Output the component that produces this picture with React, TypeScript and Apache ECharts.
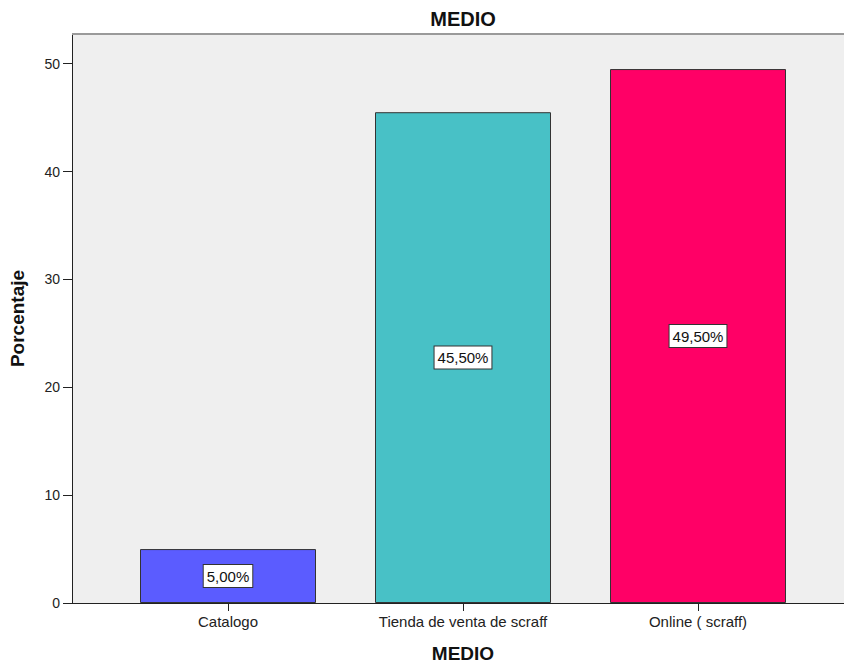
import React, { useEffect, useRef } from "react";
import * as echarts from "echarts";

const categories = ["Catalogo", "Tienda de venta de scraff", "Online ( scraff)"];
const percentages = [5.0, 45.5, 49.5];
const barColors = ["#5B5CFF", "#48C1C6", "#FF0066"];
const yTicks = [0, 10, 20, 30, 40, 50];

const FONT = "'Liberation Sans', Arial, sans-serif";
const Y_MAX = 52.75;

export default function App() {
  const ref = useRef<HTMLDivElement>(null);
  useEffect(() => {
    if (!ref.current) return;
    const chart = echarts.init(ref.current, null, { renderer: "svg" });
    chart.setOption({
      animation: false,
      textStyle: { fontFamily: FONT },
      title: {
        text: "MEDIO",
        left: 458,
        top: 4,
        textAlign: "center",
        textStyle: { fontFamily: FONT, fontSize: 20, fontWeight: "bold", color: "#111" },
      },
      grid: [
        {
          left: 72, right: 0, top: 34, bottom: 61, show: true, backgroundColor: "#EFEFEF", borderWidth: 0,
          containLabel: false, outerBoundsMode: "none",
        },
        { left: 110.5, right: 28.5, top: 34, bottom: 61, containLabel: false, outerBoundsMode: "none" },
      ],
      xAxis: [
        {
          gridIndex: 0,
          type: "value",
          min: 0,
          max: 1,
          axisLine: { show: true, onZero: false, lineStyle: { color: "#222", width: 1 } },
          axisTick: { show: false },
          axisLabel: { show: false },
          splitLine: { show: false },
        },
        {
          gridIndex: 1,
          type: "category",
          data: categories,
          axisLine: { show: false },
          axisTick: { show: true, alignWithLabel: true, length: 8, lineStyle: { color: "#222" } },
          axisLabel: { fontFamily: FONT, fontSize: 15, color: "#222", margin: 11 },
          name: "MEDIO",
          nameLocation: "middle",
          nameGap: 41,
          nameTextStyle: { fontFamily: FONT, fontSize: 19, fontWeight: "bold", color: "#111" },
        },
      ],
      yAxis: [
        {
          gridIndex: 0,
          type: "value",
          min: 0,
          max: Y_MAX,
          axisLine: { show: true, lineStyle: { color: "#222", width: 1 } },
          axisTick: { show: true, length: 9, lineStyle: { color: "#222" }, customValues: yTicks },
          axisLabel: { fontFamily: FONT, fontSize: 14, color: "#222", margin: 12, customValues: yTicks },
          splitLine: { show: false },
          name: "Porcentaje",
          nameLocation: "middle",
          nameGap: 45,
          nameTextStyle: { fontFamily: FONT, fontSize: 19, fontWeight: "bold", color: "#111" },
        },
        {
          gridIndex: 1,
          type: "value",
          min: 0,
          max: Y_MAX,
          show: false,
        },
      ],
      graphic: [
        {
          type: "line",
          shape: { x1: 72, y1: 34, x2: 844, y2: 34 },
          style: { stroke: "#9a9a9a", lineWidth: 2 },
          z: 10,
        },
      ],
      series: [
        {
          type: "bar",
          xAxisIndex: 1,
          yAxisIndex: 1,
          barWidth: 176,
          data: percentages.map((v, i) => ({
            value: v,
            itemStyle: { color: barColors[i], borderColor: "#333", borderWidth: 1 },
          })),
          label: {
            show: true,
            position: "inside",
            formatter: (p: any) => p.value.toFixed(2).replace(".", ",") + "%",
            fontFamily: FONT,
            fontSize: 15,
            color: "#111",
            backgroundColor: "#fff",
            borderColor: "#333",
            borderWidth: 1,
            padding: [4, 3, 3, 3],
          },
        },
      ],
    });
    return () => chart.dispose();
  }, []);
  return (
    <div
      ref={ref}
      style={{ position: "fixed", left: 0, top: 0, width: 844, height: 664, background: "#fff" }}
    />
  );
}
